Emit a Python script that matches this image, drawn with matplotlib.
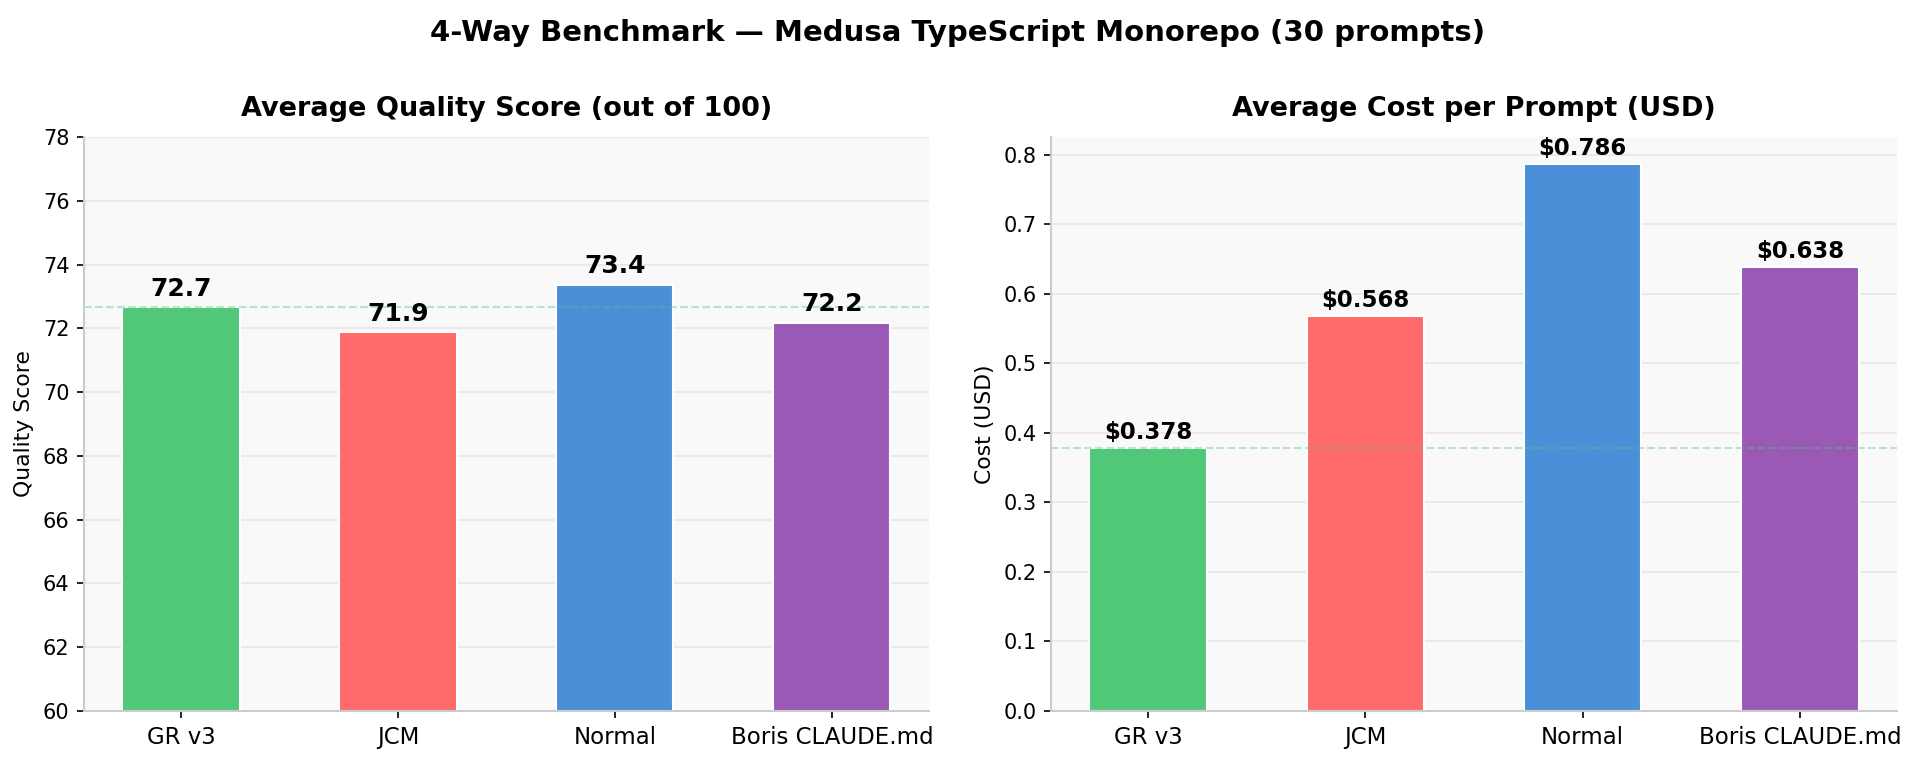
import matplotlib
matplotlib.use("Agg")
import matplotlib.pyplot as plt
import numpy as np

categories = ["GR v3", "JCM", "Normal", "Boris CLAUDE.md"]
quality = [72.67, 71.87, 73.37, 72.17]
cost = [0.378, 0.568, 0.786, 0.638]
colors = ["#50c878", "#ff6b6b", "#4a90d9", "#9b59b6"]

fig = plt.figure(figsize=(12.767, 5.1), dpi=150)
ax1 = fig.add_axes([0.0439, 0.0706, 0.4411, 0.7504])
ax2 = fig.add_axes([0.5488, 0.0706, 0.4418, 0.7504])

x = np.arange(len(categories))


def style(ax):
    ax.set_facecolor("#f9f9f9")
    ax.spines["top"].set_visible(False)
    ax.spines["right"].set_visible(False)
    for s in ("left", "bottom"):
        ax.spines[s].set_color("#cccccc")
        ax.spines[s].set_linewidth(1.0)
    ax.yaxis.grid(True, color="#e6e6e6", linewidth=0.8)
    ax.set_axisbelow(True)
    ax.set_xticks(x)
    ax.set_xticklabels(categories, fontsize=11)
    ax.tick_params(axis="y", labelsize=10)


# quality
style(ax1)
bars = ax1.bar(x, quality, width=0.54, color=colors, edgecolor="white", linewidth=1.0)
ax1.set_ylim(60, 78)
ax1.set_yticks(np.arange(60, 79, 2))
ax1.axhline(quality[0], color="#50c878", alpha=0.4, linestyle="--", linewidth=1.0)
for b, v in zip(bars, quality):
    ax1.text(b.get_x() + b.get_width() / 2, v + 0.2, f"{v:.1f}",
             ha="center", va="bottom", fontsize=12, fontweight="bold")
ax1.set_ylabel("Quality Score", fontsize=10.5)
ax1.set_title("Average Quality Score (out of 100)", fontsize=13, fontweight="bold", pad=10)

# cost
style(ax2)
bars = ax2.bar(x, cost, width=0.54, color=colors, edgecolor="white", linewidth=1.0)
ax2.set_ylim(0, max(cost) * 1.05)
ax2.axhline(cost[0], color="#50c878", alpha=0.4, linestyle="--", linewidth=1.0)
for b, v in zip(bars, cost):
    ax2.text(b.get_x() + b.get_width() / 2, v + 0.006, f"${v:.3f}",
             ha="center", va="bottom", fontsize=11, fontweight="bold")
ax2.set_ylabel("Cost (USD)", fontsize=10.5)
ax2.set_title("Average Cost per Prompt (USD)", fontsize=13, fontweight="bold", pad=10)

fig.suptitle("4-Way Benchmark \u2014 Medusa TypeScript Monorepo (30 prompts)",
             fontsize=14, fontweight="bold", y=0.975)

fig.savefig("out.png", dpi=150)
